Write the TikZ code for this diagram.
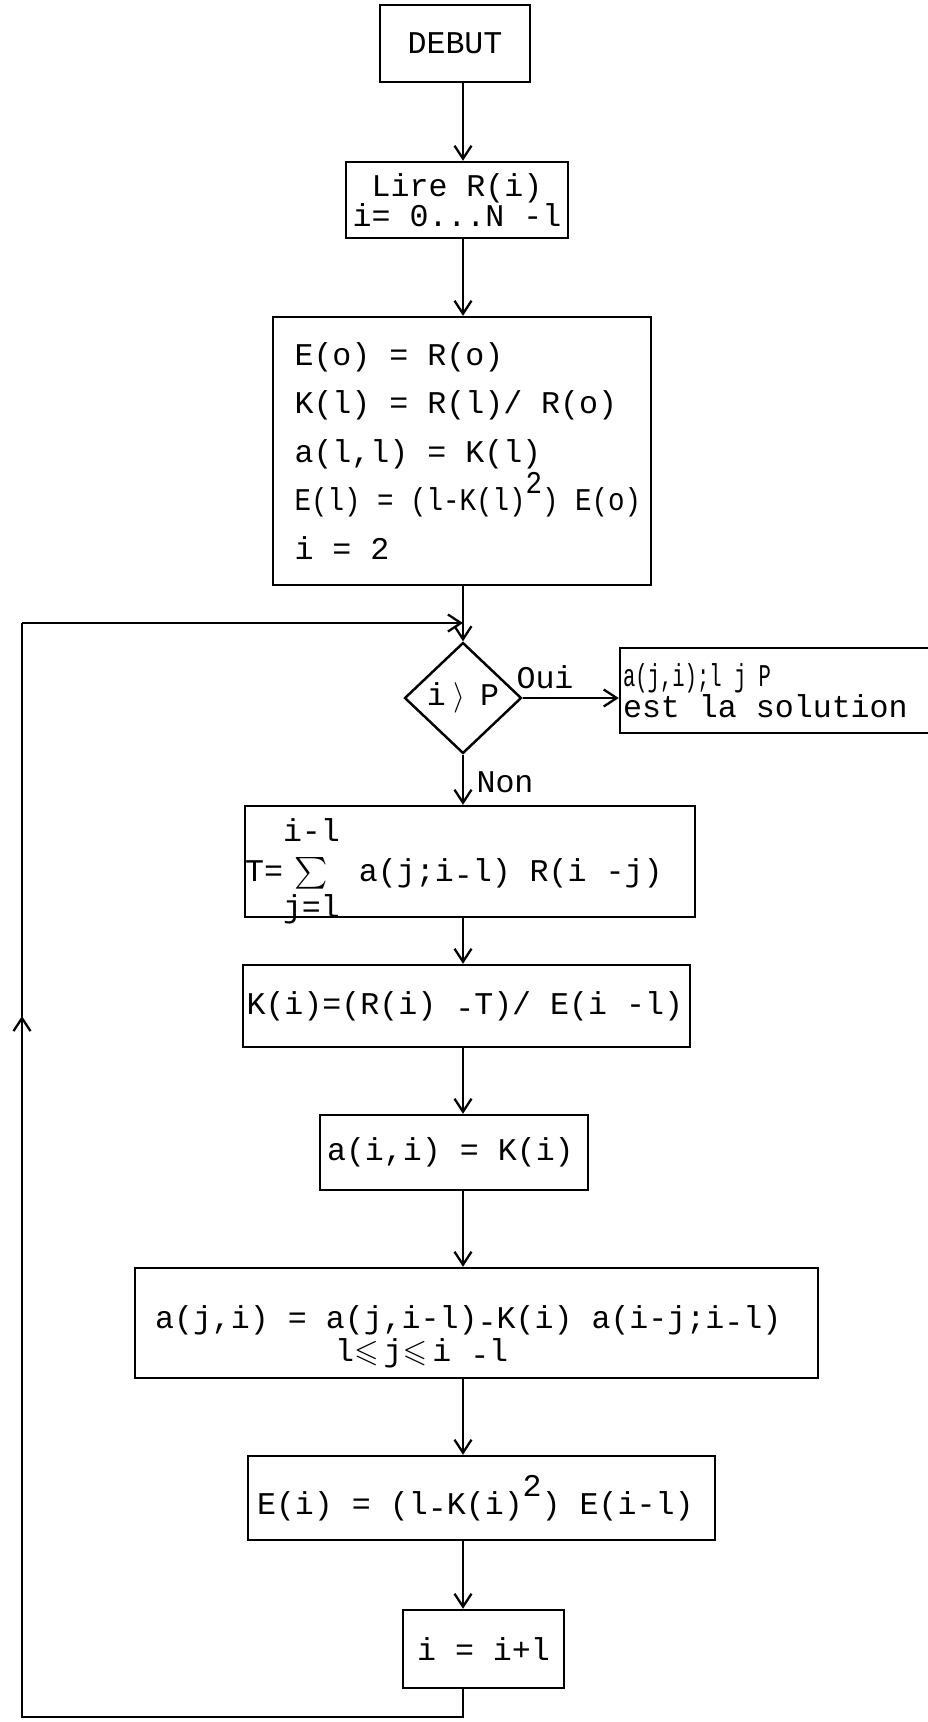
\documentclass[tikz,border=0pt]{standalone}
\usepackage{fontspec}
\usepackage{amssymb}
\usepackage{graphicx}
\usetikzlibrary{shapes.geometric,arrows.meta}
\setmainfont{Liberation Mono}

% typewriter low dash and raised square
\newcommand{\lowdash}{\raisebox{-.15em}{-}}
\newcommand{\sqr}{\raisebox{.55em}{2}}
% full-width typewriter spaces inside ragged nodes
\newcommand{\ttspaces}{\spaceskip=0pt\xspaceskip=0pt\relax}

\begin{document}
\begin{tikzpicture}[
  x=0.02cm, y=-0.02cm,
  box/.style={draw, line width=1.4pt, inner sep=0pt, font=\fontsize{18}{21}\selectfont,
              execute at begin node=\ttspaces},
  test/.style={diamond, draw, line width=1.4pt, inner sep=0pt, font=\fontsize{18}{21}\selectfont},
  lbl/.style={inner sep=0pt, font=\fontsize{18}{21}\selectfont},
  arr/.style={line width=1.3pt, -{Straight Barb[length=2.6mm,width=3.4mm]}},
  wire/.style={line width=1.3pt}
]
  \useasboundingbox (0,0) rectangle (927,1722);
  \coordinate (spine) at (463,0);

  \node[box, minimum width=3cm, minimum height=1.54cm] (debut) at (455,43.5) {DEBUT};
  \node[box, minimum width=4.44cm, minimum height=1.52cm, align=center,
        font=\fontsize{18}{17}\selectfont] (lire) at (457,200) {Lire R(i)\\i= 0...N -l};
  \node[box, minimum width=7.56cm, minimum height=5.36cm, text width=6.7cm, align=left,
        font=\fontsize{18}{27.6}\selectfont] (init) at (462,451)
    {E(o) = R(o)\\K(l) = R(l)/ R(o)\\a(l,l) = K(l)\\\scalebox{0.87}[1]{E(l) = (l-K(l)\sqr) E(o)}\\i = 2};

  \node[test, minimum width=2.34cm, minimum height=2.22cm] (test) at (463,698)
    {i\hspace{.15cm}$\big\rangle$\hspace{.3cm}P};
  \node[box, minimum width=7.6cm, minimum height=1.7cm, text width=7.48cm, align=left,
        font=\fontsize{18}{12}\selectfont] (sol) at (810,690.5)
    {\scalebox{0.65}[1]{a(j,i);l j P}\\est la solution};
  \node[lbl] (oui) at (545,677) {Oui};
  \node[lbl] (non) at (505,782) {Non};

  \node[box, text height=1.5cm, text depth=0.72cm, text width=9cm, align=left] (sum) at (470,861.5)
    {T=$\sum\limits_{\mbox{j=l}}^{\mbox{\rule[-0.25cm]{0pt}{0.5cm}i-l}}$ a(j;i\lowdash l) R(i -j)};
  \node[box, minimum width=8.94cm, minimum height=1.64cm, text width=8.8cm, align=left] (gain) at (466.5,1006)
    {K(i)=(R(i) \lowdash T)/ E(i -l)};
  \node[box, minimum width=5.36cm, minimum height=1.5cm, text width=5.08cm, align=left] (diag) at (454,1152.5)
    {a(i,i) = K(i)};
  \node[box, text height=1.2cm, text depth=1.0cm, text width=12.86cm, minimum width=13.66cm, align=left,
        font=\fontsize{18}{18.8}\selectfont] (coef) at (476.5,1323)
    {a(j,i) = a(j,i-l)\lowdash K(i) a(i-j;i\lowdash l)\\\hspace*{3.6cm}l$\leqslant\,$j$\leqslant\,$i \lowdash l};
  \node[box, minimum width=9.34cm, minimum height=1.68cm, text width=8.98cm, align=left] (err) at (481.5,1498)
    {E(i) = (l\lowdash K(i)\sqr) E(i-l)};
  \node[box, minimum width=3.22cm, minimum height=1.56cm, align=center] (inc) at (483.5,1649) {i = i+l};

  % main column
  \draw[arr] (debut.south -| spine) -- (lire.north -| spine);
  \draw[arr] (lire.south -| spine) -- (init.north -| spine);
  \draw[arr] (init.south -| spine) -- (test.north);
  \draw[arr] (test.east) -- (sol.west |- test.east);
  \draw[arr] (test.south) -- (sum.north -| spine);
  \draw[arr] (sum.south -| spine) -- (gain.north -| spine);
  \draw[arr] (gain.south -| spine) -- (diag.north -| spine);
  \draw[arr] (diag.south -| spine) -- (coef.north -| spine);
  \draw[arr] (coef.south -| spine) -- (err.north -| spine);
  \draw[arr] (err.south -| spine) -- (inc.north -| spine);

  % loop back to the test
  \coordinate (loopbl) at (22,1717);
  \coordinate (looptl) at (22,623);
  \coordinate (upmark) at (22,1016);
  \draw[wire] (inc.south -| spine) |- (loopbl) -- (looptl);
  \draw[arr] (looptl) -- (looptl -| spine);
  \draw[arr] (loopbl) -- (upmark);
\end{tikzpicture}
\end{document}
